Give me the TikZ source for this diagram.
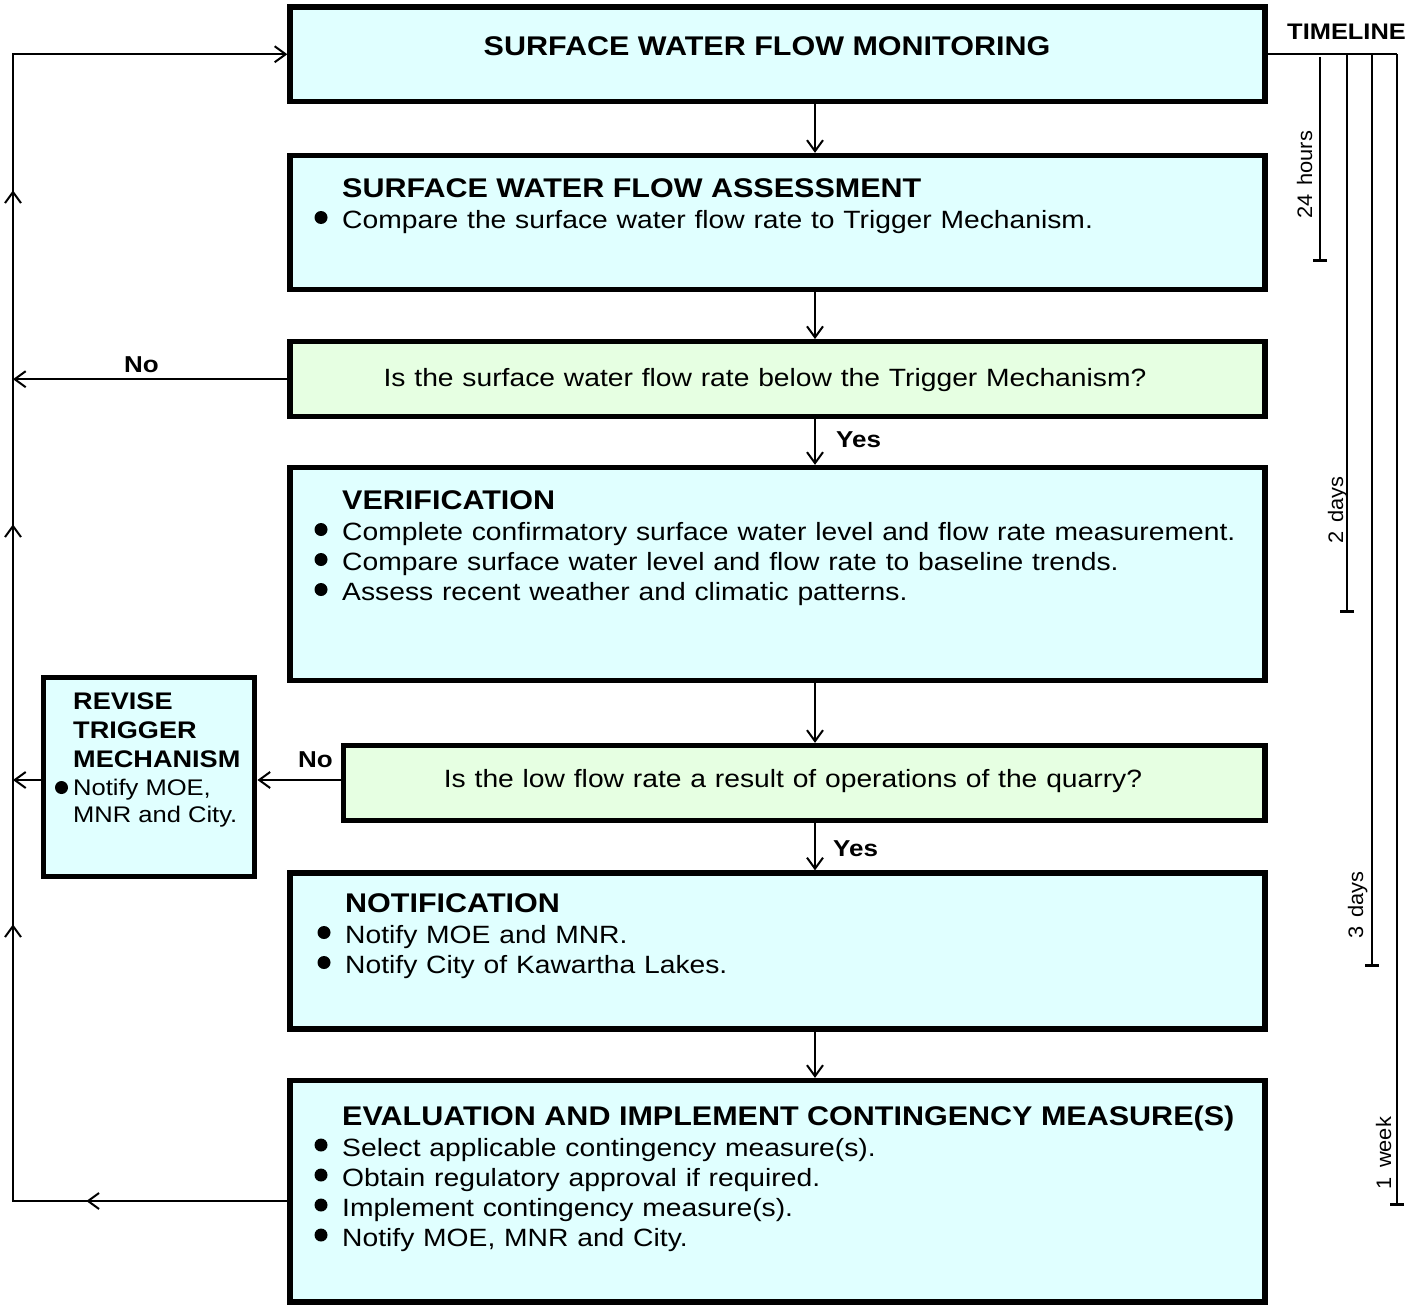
\documentclass[tikz,border=0pt]{standalone}
\usepackage{fontspec}
\setmainfont{Liberation Sans}[FakeStretch=1.13]
\newfontfamily\tlsans{Liberation Sans}[FakeStretch=1.04]
\usetikzlibrary{arrows.meta,decorations.markings}
\definecolor{boxcyan}{RGB}{224,255,255}
\definecolor{boxgreen}{RGB}{230,255,226}

\tikzset{
  barb/.tip={Straight Barb[length=11pt,width=16pt]},
  box/.style={draw=black, line width=5.3pt, fill=boxcyan, inner sep=0pt},
  qbox/.style={box, fill=boxgreen},
  head/.style={font={\fontsize{27}{31}\selectfont\bfseries}, inner sep=0pt, anchor=base west},
  body/.style={font={\fontsize{25}{29}\selectfont\spaceskip=8.8pt\relax}, inner sep=0pt, anchor=base west},
  rhead/.style={font={\fontsize{24}{28}\selectfont\bfseries}, inner sep=0pt, anchor=base west},
  rbody/.style={font={\fontsize{22.6}{26}\selectfont}, inner sep=0pt, anchor=base west},
  lbl/.style={font={\fontsize{23}{27}\selectfont\bfseries}, inner sep=0pt, anchor=base west},
  flow/.style={line width=2pt, -barb},
  conn/.style={line width=2pt},
  tline/.style={line width=1.3pt, -{Bar[width=14pt,line width=2.6pt]}},
  tlabel/.style={font={\tlsans\fontsize{21}{25}\selectfont\spaceskip=9pt\relax}, rotate=90, anchor=base, inner sep=0pt},
  dot/.style={circle, fill=black, inner sep=0pt, minimum size=13pt},
}

\begin{document}
\begin{tikzpicture}[x=1pt,y=-1pt]
\useasboundingbox (0,0) rectangle (1423,1308);

% ---- boxes ----
\node[box,  minimum width=975pt,   minimum height=94.5pt] (b1) at (777.5,54.25) {};
\node[box,  minimum width=975pt,   minimum height=134pt]  (b2) at (777.5,222.5) {};
\node[qbox, minimum width=975pt,   minimum height=75pt]   (b3) at (777.5,379.2) {};
\node[box,  minimum width=975pt,   minimum height=213pt]  (b4) at (777.5,574) {};
\node[qbox, minimum width=921.8pt, minimum height=75pt]   (b5) at (804.1,783) {};
\node[box,  minimum width=211.6pt, minimum height=199pt]  (b6) at (149,777) {};
\node[box,  minimum width=975pt,   minimum height=156pt]  (b7) at (777.5,951) {};
\node[box,  minimum width=975pt,   minimum height=221.5pt](b8) at (777.5,1191.25) {};

% ---- box texts ----
\node[head, anchor=base] (t1) at (767,56) {SURFACE WATER FLOW MONITORING};

\node[head] (t2) at (342,197) {SURFACE WATER FLOW ASSESSMENT};
\node[dot] (d21) at (321,217.5) {};
\node[body] (t21) at (342,228.5) {Compare the surface water flow rate to Trigger Mechanism.};

\node[body, anchor=base] (t3) at (765,386) {Is the surface water flow rate below the Trigger Mechanism?};

\node[head] (t4) at (342,509) {VERIFICATION};
\node[dot] (d41) at (321,529.5) {};
\node[body] (t41) at (342,540.5) {Complete confirmatory surface water level and flow rate measurement.};
\node[dot] (d42) at (321,559.5) {};
\node[body] (t42) at (342,570.5) {Compare surface water level and flow rate to baseline trends.};
\node[dot] (d43) at (321,589.5) {};
\node[body] (t43) at (342,600.5) {Assess recent weather and climatic patterns.};

\node[body, anchor=base] (t5) at (793,787) {Is the low flow rate a result of operations of the quarry?};

\node[rhead] (t6a) at (73,709) {REVISE};
\node[rhead] (t6b) at (73,738) {TRIGGER};
\node[rhead] (t6c) at (73,767) {MECHANISM};
\node[dot] (d61) at (61.5,787.5) {};
\node[rbody] (t61) at (73,795) {Notify MOE,};
\node[rbody] (t62) at (73,822) {MNR and City.};

\node[head] (t7) at (345,912) {NOTIFICATION};
\node[dot] (d71) at (324,932.5) {};
\node[body] (t71) at (345,943.5) {Notify MOE and MNR.};
\node[dot] (d72) at (324,962.5) {};
\node[body] (t72) at (345,973.5) {Notify City of Kawartha Lakes.};

\node[head] (t8) at (342,1125) {EVALUATION AND IMPLEMENT CONTINGENCY MEASURE(S)};
\node[dot] (d81) at (321,1145) {};
\node[body] (t81) at (342,1156) {Select applicable contingency measure(s).};
\node[dot] (d82) at (321,1175) {};
\node[body] (t82) at (342,1186) {Obtain regulatory approval if required.};
\node[dot] (d83) at (321,1205) {};
\node[body] (t83) at (342,1216) {Implement contingency measure(s).};
\node[dot] (d84) at (321,1235) {};
\node[body] (t84) at (342,1246) {Notify MOE, MNR and City.};

% ---- main flow ----
\coordinate (xa) at (815,0);
\draw[flow] (b1.south -| xa) -- (b2.north -| xa);
\draw[flow] (b2.south -| xa) -- (b3.north -| xa);
\draw[flow] (b3.south -| xa) -- (b4.north -| xa);
\draw[flow] (b4.south -| xa) -- (b5.north -| xa);
\draw[flow] (b5.south -| xa) -- (b7.north -| xa);
\draw[flow] (b7.south -| xa) -- (b8.north -| xa);
\node[lbl] (yes1) at (836,447.5) {Yes};
\node[lbl] (yes2) at (833,856) {Yes};

% ---- return loop on the left ----
\coordinate (xl) at (13,0);
\coordinate (ybot) at (0,1201);
\coordinate (ynr) at (0,780);
\draw[conn, -barb,
      postaction={decorate},
      decoration={markings,
        mark=at position 201pt with {\arrow{barb}},
        mark=at position 551pt with {\arrow{barb}},
        mark=at position 951pt with {\arrow{barb}},
        mark=at position 1285pt with {\arrow{barb}}}]
  (b8.west |- ybot) -- (xl |- ybot) -- (xl |- b1.west) -- (b1.west);
\draw[flow] (b3.west) -- (xl |- b3.west);
\node[lbl] (no1) at (124,372.5) {No};
\draw[flow] (b5.west |- ynr) -- (b6.east |- ynr);
\node[lbl] (no2) at (298,767) {No};
\draw[flow] (b6.west |- ynr) -- (xl |- ynr);

% ---- timeline ----
\node[font={\fontsize{22.5}{26}\selectfont\bfseries}, inner sep=0pt, anchor=base west] (tl) at (1287,40) {TIMELINE};
\coordinate (tend) at (1397,54);
\draw[line width=1.3pt] (b1.east |- tend) -- (tend);
\coordinate (v1a) at (1320,57);   \coordinate (v1b) at (1320,262);
\coordinate (v2a) at (1347,54);   \coordinate (v2b) at (1347,613);
\coordinate (v3a) at (1372,54);   \coordinate (v3b) at (1372,967);
\coordinate (v4a) at (1397,54);   \coordinate (v4b) at (1397,1206);
\draw[tline] (v1a) -- (v1b);
\draw[tline] (v2a) -- (v2b);
\draw[tline] (v3a) -- (v3b);
\draw[tline] (v4a) -- (v4b);
\node[tlabel] (l1) at (1312,175) {24 hours};
\node[tlabel] (l2) at (1343,510) {2 days};
\node[tlabel] (l3) at (1363,905) {3 days};
\node[tlabel] (l4) at (1391,1153) {1 week};
\end{tikzpicture}
\end{document}
